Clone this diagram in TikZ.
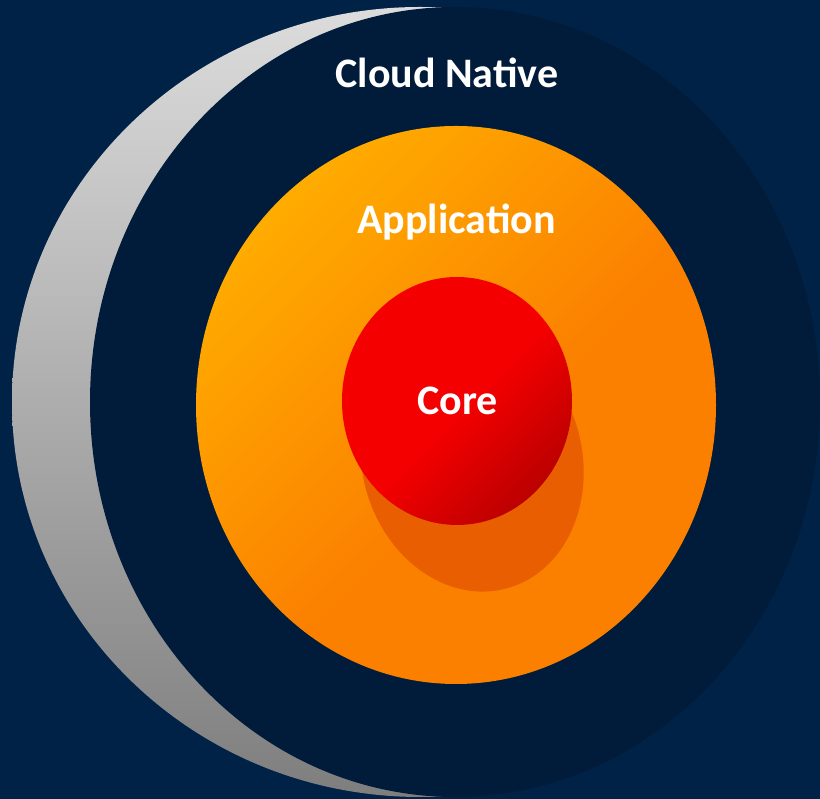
\documentclass[tikz,border=0pt]{standalone}
\usepackage{fontspec}
\setmainfont{Carlito}
\definecolor{pagebg}{HTML}{002246}
\definecolor{ringdark}{HTML}{001C3A}
\definecolor{greyA}{HTML}{DCDCDC}
\definecolor{greyB}{HTML}{7E7E7E}
\definecolor{orA}{HTML}{FFAC00}
\definecolor{orB}{HTML}{FB8000}
\definecolor{shadowor}{HTML}{E85E00}
\definecolor{redA}{HTML}{F40000}
\definecolor{redB}{HTML}{B40000}
\pgfdeclarehorizontalshading{orangeglow}{100bp}{color(0bp)=(orA); color(25bp)=(orA); color(55bp)=(orB); color(100bp)=(orB)}
\pgfdeclarehorizontalshading{redglow}{100bp}{color(0bp)=(redA); color(52bp)=(redA); color(78bp)=(redB); color(100bp)=(redB)}
\tikzset{
  label/.style={text=white, font=\bfseries\fontsize{42}{46}\selectfont, anchor=base, inner sep=0pt},
}
\begin{document}
\begin{tikzpicture}[x=1pt,y=1pt]
  % backdrop
  \fill[pagebg] (0,0) rectangle (820,799);
  \useasboundingbox (0,0) rectangle (820,799);
  % grey crescent behind the outer ring, left half only
  \begin{scope}
    \clip (0,0) rectangle (450,799);
    \shade[top color=greyA, bottom color=greyB] (420,397) ellipse [x radius=408, y radius=395];
  \end{scope}
  % outer ring
  \fill[ringdark] (455,397) ellipse [x radius=365, y radius=395];
  % middle ring
  \shade[shading=orangeglow, shading angle=-45] (456,394) ellipse [x radius=260, y radius=279];
  % drop shadow of the core
  \fill[shadowor, rotate around={15:(472,339)}] (472,339) ellipse [x radius=110, y radius=133];
  % core
  \shade[shading=redglow, shading angle=-45] (457,398) ellipse [x radius=115, y radius=124];
  % labels
  \node[label] (cloud) at (447,711) {Cloud Native};
  \node[label] (app) at (456.5,565) {Application};
  \node[label] (core) at (457.5,384) {Core};
\end{tikzpicture}
\end{document}
